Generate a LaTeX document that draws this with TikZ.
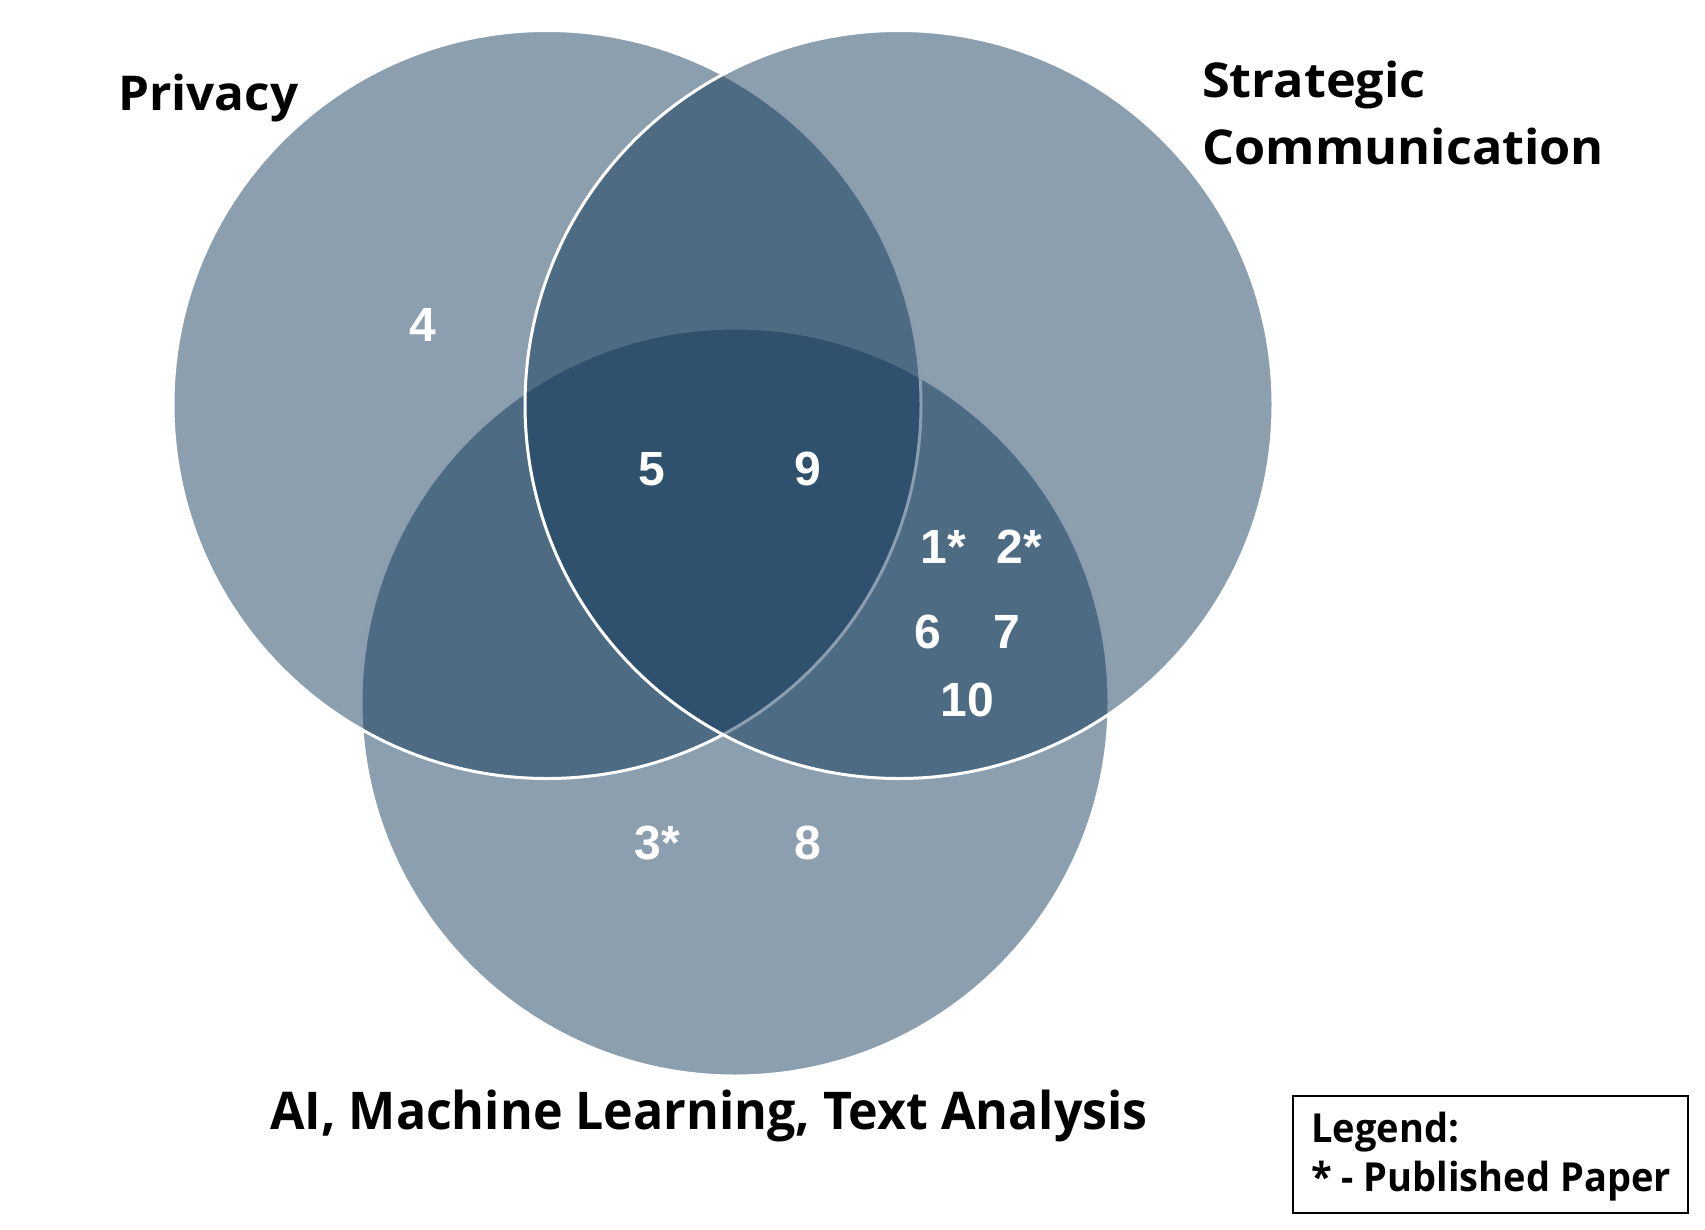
\documentclass[tikz,border=0pt]{standalone}
\usepackage{fontspec}
\setmainfont{Open Sans}
\newfontfamily\numfont{Liberation Sans}
\definecolor{vennblue}{RGB}{10,50,85}
\begin{document}
\begin{tikzpicture}[x=1pt,y=-1pt,
 venn/.style={circle, minimum size=748pt, inner sep=0pt, fill=vennblue, fill opacity=0.47, draw=white, line width=3pt, draw opacity=1},
 num/.style={text=white, font=\numfont\bfseries\fontsize{48}{48}\selectfont, anchor=center, inner sep=0pt},
 lab/.style={font=\bfseries\fontsize{48}{56}\selectfont, anchor=base west, inner sep=0pt},
 biglab/.style={font=\bfseries\fontsize{52}{60}\selectfont, anchor=base, inner sep=0pt},
 leglab/.style={font=\bfseries\fontsize{40}{48}\selectfont, anchor=base west, inner sep=0pt}]
\useasboundingbox (0,0) rectangle (1705,1229);
\node[venn] (ai) at (735,702) {};
\node[venn] (priv) at (547,404.5) {};
\node[venn] (strat) at (899,404.5) {};
\node[num] (n4) at (423,325) {4};
\node[num] (n5) at (652,469) {5};
\node[num] (n9) at (808,469) {9};
\node[num] (n1) at (943,547) {1*};
\node[num] (n2) at (1019,547) {2*};
\node[num] (n6) at (928,632) {6};
\node[num] (n7) at (1007,632) {7};
\node[num] (n10) at (967,700) {10};
\node[num] (n3) at (657,843) {3*};
\node[num] (n8) at (808,843) {8};
\node[lab] (lpriv) at (118,110) {\scalebox{1.03}[1]{Privacy}};
\node[lab] (lstrat) at (1202,97) {\scalebox{1.05}[1]{Strategic}};
\node[lab] (lcomm) at (1202,164) {\scalebox{1.05}[1]{Communication}};
\node[biglab] (lai) at (709,1129) {\scalebox{0.963}[1]{AI, Machine Learning, Text Analysis}};
\node[draw=black, line width=2pt, minimum width=395pt, minimum height=117pt, anchor=north west, inner sep=0pt] (legend) at (1292,1095) {};
\node[leglab] (lleg) at (1311,1142) {\scalebox{0.95}[1]{Legend:}};
\node[leglab] (lpub) at (1311,1191) {\scalebox{0.95}[1]{* - Published Paper}};
\end{tikzpicture}
\end{document}
